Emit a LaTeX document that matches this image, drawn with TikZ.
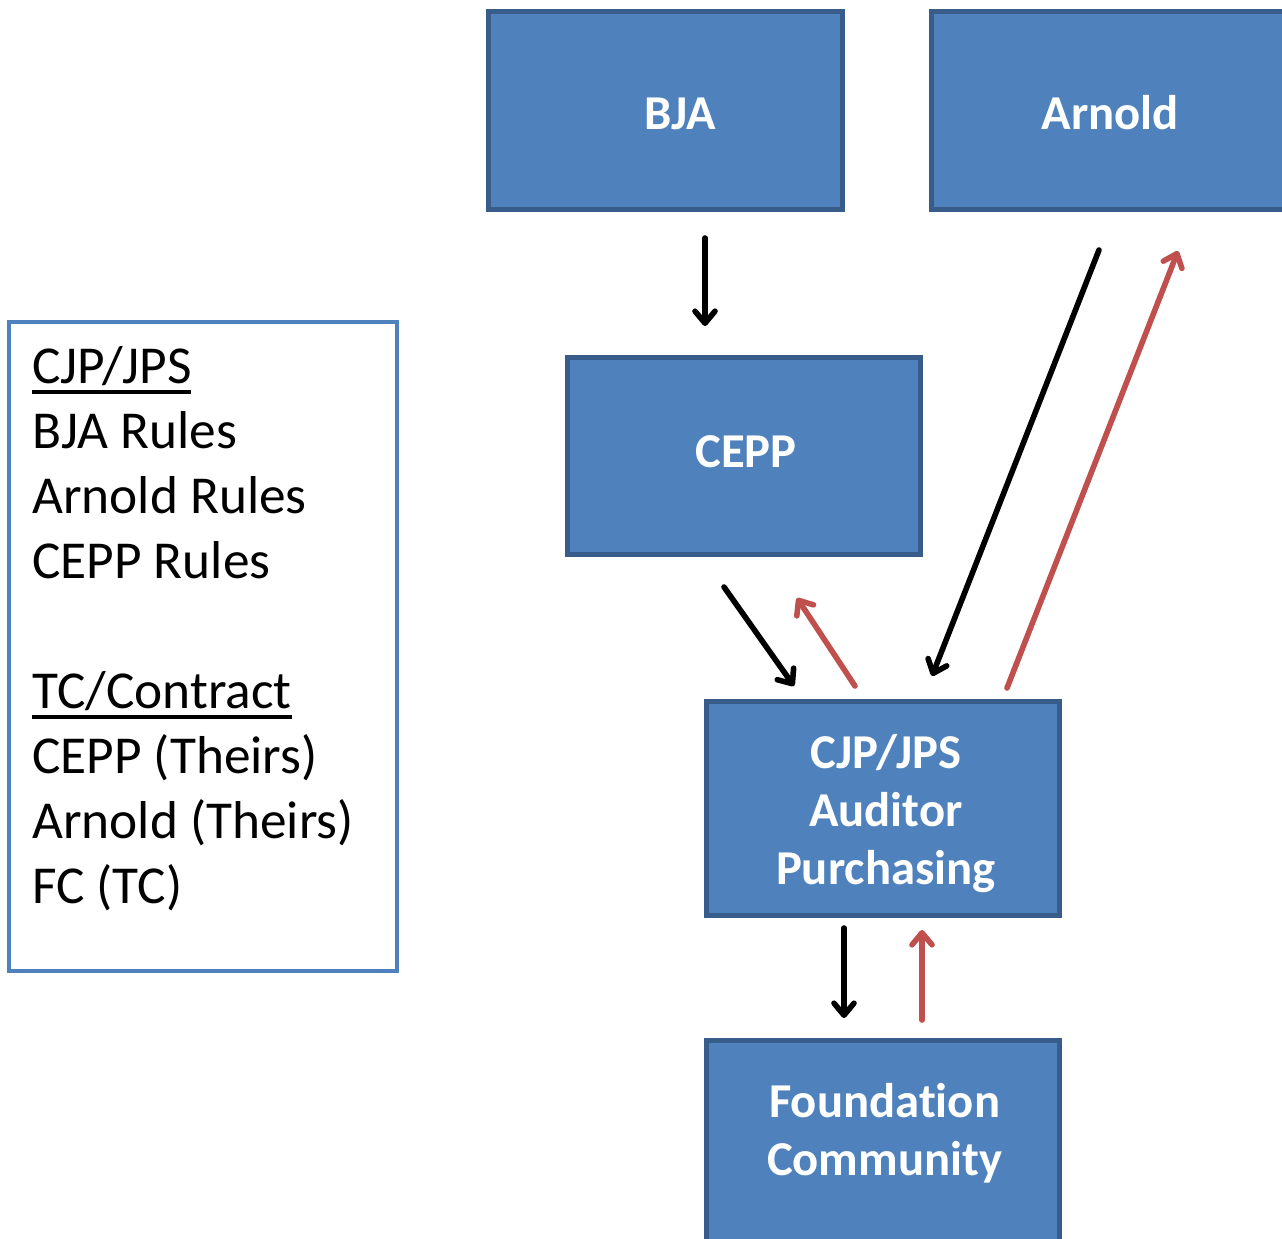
\documentclass[tikz,border=0pt]{standalone}
\usepackage{fontspec}
\setmainfont{Carlito}[Ligatures=NoCommon]
\usetikzlibrary{arrows.meta}
\definecolor{boxfill}{HTML}{4F81BD}
\definecolor{boxline}{HTML}{385D8A}
\definecolor{redarrow}{HTML}{C0504D}
\newlength\ulw
\newcommand\myul[1]{\settowidth\ulw{#1}\rlap{\rule[-7.5pt]{\ulw}{2.6pt}}#1}
\begin{document}
\begin{tikzpicture}[x=0.75pt,y=-0.75pt,
  box/.style={draw=boxline, fill=boxfill, line width=3.8pt, inner sep=0pt},
  boxtext/.style={text=white, font=\fontsize{36.5}{43.5}\selectfont\bfseries, align=center, inner sep=0pt},
  legend/.style={draw=boxfill, line width=3pt, fill=white},
  legendtext/.style={font=\fontsize{40}{48.75}\selectfont, align=left, inner sep=0pt, anchor=north west},
  conn/.style={line width=4.2pt, line cap=round,
    -{Straight Barb[length=9pt,width=15pt,line cap=round,line join=round]}},
  blk/.style={conn, draw=black},
  rd/.style={conn, draw=redarrow}]
\useasboundingbox (0,0) rectangle (1282,1239);
\clip (0,0) rectangle (1282,1239);
\fill[white] (0,0) rectangle (1282,1239);

% boxes
\node[box, minimum width=265.5pt, minimum height=148.5pt,
  label={[boxtext, shift={(10.9pt,-2.5pt)}]center:BJA}] (bja) at (665.5,110.5) {};
\node[box, minimum width=265.5pt, minimum height=148.5pt,
  label={[boxtext, shift={(1.2pt,-1.8pt)}]center:Arnold}] (arnold) at (1108.5,110.5) {};
\node[box, minimum width=264.75pt, minimum height=147.75pt,
  label={[boxtext, shift={(1.5pt,3pt)}]center:CEPP}] (cepp) at (744,456) {};
\node[box, minimum width=264.75pt, minimum height=160.5pt,
  label={[boxtext, shift={(2.2pt,-3.7pt)}]center:CJP/JPS\\Auditor\\Purchasing}] (cjp) at (883,808.5) {};
\node[box, minimum width=264.75pt, minimum height=164.25pt,
  label={[boxtext, shift={(1.2pt,12.8pt)}]center:Foundation\\Community}] (fc) at (883,1150) {};

% legend
\node[legend, minimum width=291pt, minimum height=486.75pt, inner sep=0pt] (leg) at (203,646.5) {};
\node[legendtext] (legtxt) at (32,346.5) {\myul{CJP/JPS}\\BJA Rules\\Arnold Rules\\CEPP Rules\\[48.75pt]\myul{TC/Contract}\\CEPP (Theirs)\\Arnold (Theirs)\\FC (TC)};

% connector end points
\coordinate (p1s) at (705,238);  \coordinate (p1e) at (705,326);
\coordinate (p2s) at (724,587);  \coordinate (p2e) at (794,686);
\coordinate (p3s) at (855,686);  \coordinate (p3e) at (797,598);
\coordinate (p4s) at (1099,250); \coordinate (p4e) at (932,676);
\coordinate (p5s) at (1007,688); \coordinate (p5e) at (1178,251);
\coordinate (p6s) at (844,928);  \coordinate (p6e) at (844,1018);
\coordinate (p7s) at (922,1020); \coordinate (p7e) at (922,930);

\draw[blk] (p1s) -- (p1e);
\draw[blk] (p2s) -- (p2e);
\draw[rd]  (p3s) -- (p3e);
\draw[blk] (p4s) -- (p4e);
\draw[rd]  (p5s) -- (p5e);
\draw[blk] (p6s) -- (p6e);
\draw[rd]  (p7s) -- (p7e);
\end{tikzpicture}
\end{document}
